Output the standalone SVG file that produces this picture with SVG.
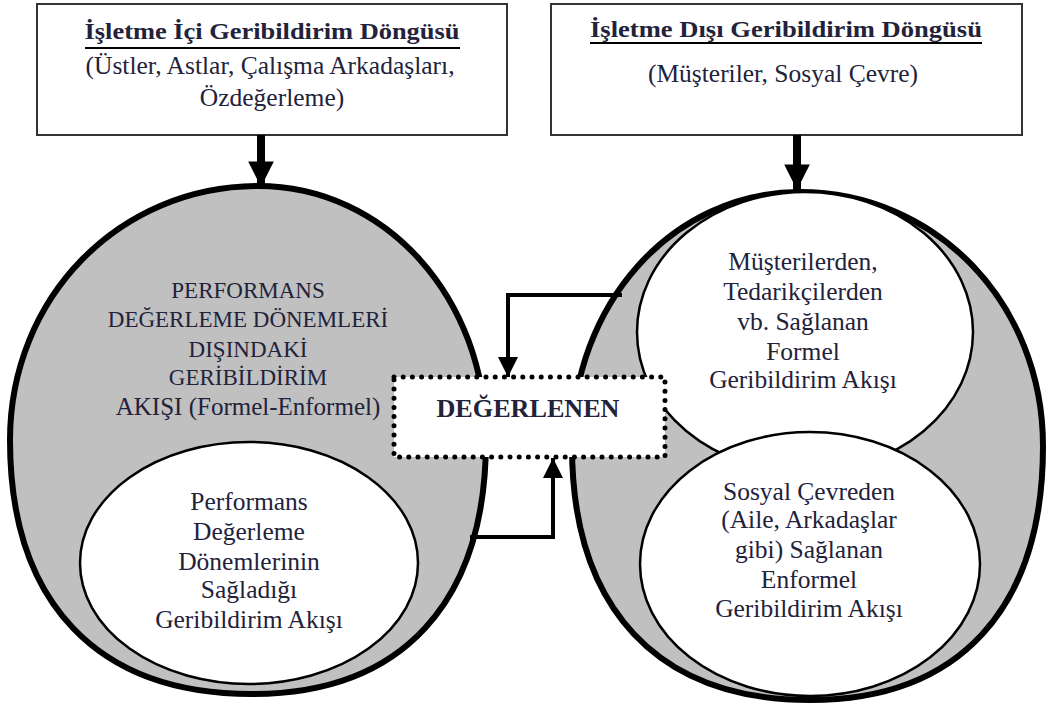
<svg xmlns="http://www.w3.org/2000/svg" width="1046" height="710" viewBox="0 0 1046 710">
<defs>
<style>
text{font-family:"Liberation Serif","Times New Roman",serif;fill:#22223a;text-anchor:middle}
.t{font-size:25.5px}
.c{font-size:23px}
.b{font-size:24px;font-weight:bold}
.box{fill:#fff;stroke:#333;stroke-width:2}
.outer{fill:#c0c0c0;stroke:#000;stroke-width:6}
.inner{fill:#fff;stroke:#000;stroke-width:2.5}
.con{fill:none;stroke:#000;stroke-width:4}
.big{fill:none;stroke:#000;stroke-width:8}
</style>
<marker id="ah" viewBox="0 0 10 10" refX="10" refY="5" markerWidth="5" markerHeight="5" markerUnits="strokeWidth" orient="auto"><path d="M0,0 L10,5 L0,10 z" fill="#000"/></marker>
<marker id="ahs" viewBox="0 0 10 10" refX="10" refY="5" markerWidth="3.2" markerHeight="3.2" markerUnits="strokeWidth" orient="auto"><path d="M0,0 L10,5 L0,10 z" fill="#000"/></marker>
</defs>
<rect width="1046" height="710" fill="#fff"/>

<g id="box-ic">
<rect class="box" x="37" y="4" width="470" height="131"/>
<text class="b" x="272" y="39" textLength="375" lengthAdjust="spacingAndGlyphs">İşletme İçi Geribildirim Döngüsü</text>
<line x1="85" y1="48" x2="460" y2="48" stroke="#000" stroke-width="2"/>
<text class="t" x="270" y="74">(Üstler, Astlar, Çalışma Arkadaşları,</text>
<text class="t" x="272" y="106">Özdeğerleme)</text>
</g>

<g id="box-dis">
<rect class="box" x="551" y="4" width="471" height="131"/>
<text class="b" x="786" y="37" textLength="392" lengthAdjust="spacingAndGlyphs">İşletme Dışı Geribildirim Döngüsü</text>
<line x1="590" y1="43" x2="982" y2="43" stroke="#000" stroke-width="2"/>
<text class="t" x="783" y="82">(Müşteriler, Sosyal Çevre)</text>
</g>

<g id="left-loop">
<path class="outer" d="M486,440 C486,602.6 401.8,694 252,694 C97.1,694 10,602.6 10,440 C10,297.8 119.1,186 258,186 C385.7,186 486,297.8 486,440 Z"/>
<text class="c" x="248" y="298">PERFORMANS</text>
<text class="c" x="248" y="327">DEĞERLEME DÖNEMLERİ</text>
<text class="c" x="248" y="357">DIŞINDAKİ</text>
<text class="c" x="248" y="385">GERİBİLDİRİM</text>
<text class="c" x="248" y="415" style="font-size:25px">AKIŞI (Formel-Enformel)</text>
</g>

<g id="left-inner">
<ellipse class="inner" cx="249" cy="563" rx="169" ry="121"/>
<text class="t" x="249" y="510">Performans</text>
<text class="t" x="249" y="540">Değerleme</text>
<text class="t" x="249" y="570">Dönemlerinin</text>
<text class="t" x="249" y="598">Sağladığı</text>
<text class="t" x="249" y="628">Geribildirim Akışı</text>
</g>

<g id="right-loop">
<path class="outer" d="M1043,446 C1043,608.6 959.1,700 810,700 C657.7,700 572,608.6 572,446 C572,303.8 672.3,192 800,192 C936.1,192 1043,303.8 1043,446 Z"/>
</g>

<g id="right-top">
<ellipse class="inner" cx="805" cy="332" rx="168" ry="140"/>
<text class="t" x="803" y="270">Müşterilerden,</text>
<text class="t" x="803" y="300">Tedarikçilerden</text>
<text class="t" x="803" y="330">vb. Sağlanan</text>
<text class="t" x="803" y="360">Formel</text>
<text class="t" x="803" y="388">Geribildirim Akışı</text>
</g>

<g id="right-bottom">
<ellipse class="inner" cx="810" cy="564" rx="170" ry="132"/>
<text class="t" x="809" y="500">Sosyal Çevreden</text>
<text class="t" x="809" y="528">(Aile, Arkadaşlar</text>
<text class="t" x="809" y="558">gibi) Sağlanan</text>
<text class="t" x="809" y="588">Enformel</text>
<text class="t" x="809" y="617">Geribildirim Akışı</text>
</g>

<g id="connectors">
<line class="big" x1="261" y1="135" x2="261" y2="187" marker-end="url(#ahs)"/>
<line class="big" x1="797" y1="135" x2="797" y2="190" marker-end="url(#ahs)"/>
<polyline class="con" points="622,295 508,295 508,377" marker-end="url(#ah)"/>
<polyline class="con" points="470,537 553,537 553,458" marker-end="url(#ah)"/>
</g>

<g id="degerlenen">
<rect x="394" y="377" width="271" height="80" fill="#fff" stroke="#000" stroke-width="5" stroke-dasharray="0 9.2" stroke-linecap="round"/>
<text x="528" y="417" style="font-size:25px;font-weight:bold" textLength="183" lengthAdjust="spacingAndGlyphs">DEĞERLENEN</text>
</g>
</svg>
